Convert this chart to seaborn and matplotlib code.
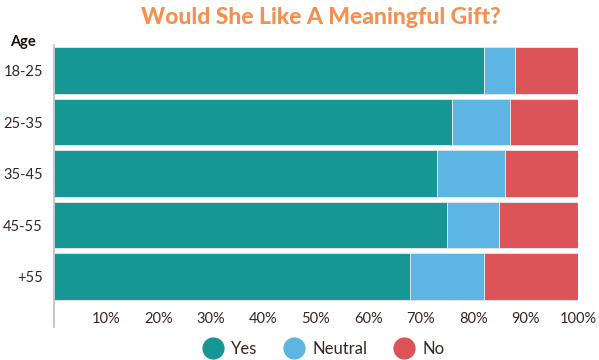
import matplotlib
matplotlib.use("Agg")
import matplotlib.pyplot as plt
from matplotlib.lines import Line2D
import seaborn as sns
import pandas as pd
import numpy as np

ages = ["18-25", "25-35", "35-45", "45-55", "+55"]
yes = [82, 76, 73, 75, 68]
neutral = [6, 11, 13, 10, 14]
no = [12, 13, 14, 15, 18]
xticks = [10, 20, 30, 40, 50, 60, 70, 80, 90, 100]
xtick_labels = ["10%", "20%", "30%", "40%", "50%", "60%", "70%", "80%", "90%", "100%"]

c_yes, c_neu, c_no = "#169694", "#5DB5E3", "#DC5457"
txt = "#3a2424"

sns.set_theme(style="white")
plt.rcParams["font.family"] = ["Lato", "DejaVu Sans"]

df = pd.DataFrame({"age": ages, "yes": yes, "neutral": neutral, "no": no})
df["c1"] = df["yes"]
df["c2"] = df["yes"] + df["neutral"]
df["c3"] = df["yes"] + df["neutral"] + df["no"]

fig = plt.figure(figsize=(5.99, 3.6), dpi=100)
ax = fig.add_axes([54/599, 1-327/360, 524/599, (327-45)/360])

for col, color in [("c3", c_no), ("c2", c_neu), ("c1", c_yes)]:
    sns.barplot(data=df, x=col, y="age", orient="h", color=color, width=0.91,
                edgecolor="#e4e4e4", linewidth=0.7, saturation=1, ax=ax)

ax.set_xlim(0, 100)
ax.set_ylim(4.98, -0.495)
ax.set_xlabel("")
ax.set_ylabel("")
ax.set_xticks(xticks)
ax.set_xticklabels(xtick_labels)
ax.tick_params(axis="x", length=0, pad=-11, colors=txt, labelsize=10.5)
ax.tick_params(axis="y", length=0, pad=8, colors=txt, labelsize=10.5)
for s in ["top", "right", "bottom"]:
    ax.spines[s].set_visible(False)
ax.spines["left"].set_color("#bdbdbd")
ax.spines["left"].set_linewidth(1.2)

fig.text(0.536, 1-17/360, "Would She Like A Meaningful Gift?", ha="center", va="center",
         fontsize=16.5, fontweight=900, color="#F39152")
fig.text(10/599, 1-42/360, "Age", ha="left", va="center", fontsize=10.5,
         fontweight="bold", color="#1a1010")

handles = [Line2D([], [], marker="o", linestyle="", markersize=15, color=c)
           for c in [c_yes, c_neu, c_no]]
fig.legend(handles, ["Yes", "Neutral", "No"], loc="center", bbox_to_anchor=(0.535, 1-349/360),
           ncol=3, frameon=False, fontsize=12, handletextpad=0.1, columnspacing=1.2,
           labelcolor=txt)

fig.savefig("out.png", dpi=100)
